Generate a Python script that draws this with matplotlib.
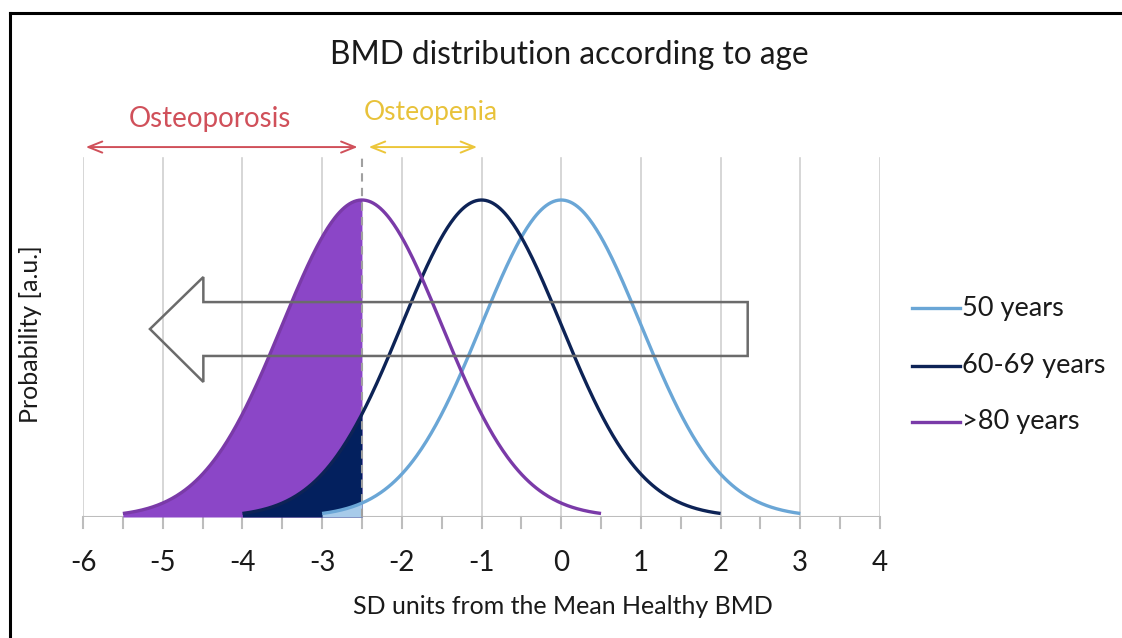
import numpy as np
import matplotlib
matplotlib.use('Agg')
import matplotlib.pyplot as plt
from matplotlib.lines import Line2D
from matplotlib.patches import Polygon

plt.rcParams['font.family'] = ['Lato', 'DejaVu Sans']

# data
labels = ['50 years', '60-69 years', '>80 years']
means = [0.0, -1.0, -2.5]
sds = [1.0, 1.0, 1.0]
line_colors = ['#6aa6d6', '#0d2356', '#7a3aa8']
fill_colors = ['#a7cbea', '#03205e', '#8b46c7']
threshold = -2.5
xticks = [-6, -5, -4, -3, -2, -1, 0, 1, 2, 3, 4]

W, H = 1122, 638
fig = plt.figure(figsize=(W / 100, H / 100), dpi=100)
fig.patch.set_facecolor('white')

# axes: x -6 at px 83, 4 at px 880; y 0 at px 517, 1 at px 200
ax = fig.add_axes([83 / W, (H - 517) / H, (880 - 83) / W, (517 - 200) / H * 1.5])
ax.set_xlim(-6, 4)
ax.set_ylim(0, 1.5)
ax.axis('off')

GRID = '#d0d0d0'
top = (517 - 158) / 317
for x in xticks:
    ax.plot([x, x], [0, top], color=GRID, lw=1.2, zorder=0)
# axis line + ticks
ax.plot([-6, 4], [0, 0], color='#bdbdbd', lw=1.5, zorder=1)
for x in np.arange(-6, 4.01, 0.5):
    ax.plot([x, x], [0, -0.035], color='#bdbdbd', lw=1.5, zorder=1, clip_on=False)
for x in xticks:
    ax.text(x, -0.145, str(x), ha='center', va='center', fontsize=20, color='#1a1a1a')

# fills (back to front: >80, 60-69, 50)
for i in [2, 1, 0]:
    m, s = means[i], sds[i]
    xs = np.linspace(m - 3 * s, threshold, 200)
    if xs[0] < threshold:
        ys = np.exp(-0.5 * ((xs - m) / s) ** 2)
        ax.fill_between(xs, 0, ys, color=fill_colors[i], lw=0, zorder=2 + (2 - i))

# dashed threshold line
ax.plot([threshold, threshold], [0, top], color='#a0a0a0', lw=1.5, ls=(0, (4, 3)), zorder=5)

# curves
for i in range(3):
    m, s = means[i], sds[i]
    xs = np.linspace(m - 3 * s, m + 3 * s, 400)
    ys = np.exp(-0.5 * ((xs - m) / s) ** 2)
    ax.plot(xs, ys, color=line_colors[i], lw=2.4, zorder=6, solid_capstyle='butt')

# hollow arrow
arrow = [(2.34, 0.678), (-4.49, 0.678), (-4.49, 0.757), (-5.16, 0.593),
         (-4.49, 0.426), (-4.49, 0.508), (2.34, 0.508)]
ax.add_patch(Polygon(arrow, closed=True, fill=False, edgecolor='#6b6b6b', lw=1.8, zorder=7))

# category arrows
ax.annotate('', xy=(-6, 1.167), xytext=(-2.52, 1.167),
            arrowprops=dict(arrowstyle='<->,head_length=1.0,head_width=0.4', color='#d0505a', lw=1.4),
            annotation_clip=False)
ax.annotate('', xy=(-2.45, 1.167), xytext=(-1.02, 1.167),
            arrowprops=dict(arrowstyle='<->,head_length=1.0,head_width=0.4', color='#ecc63a', lw=1.4),
            annotation_clip=False)
ax.text(-4.41, 1.255, 'Osteoporosis', color='#d0505a', ha='center', va='center', fontsize=20)
ax.text(-1.63, 1.275, 'Osteopenia', color='#e8c23a', ha='center', va='center', fontsize=19)

# titles
fig.text(569 / W, 1 - 55 / H, 'BMD distribution according to age', ha='center', va='center',
         fontsize=22.8, color='#1a1a1a')
fig.text(563 / W, 1 - 607 / H, 'SD units from the Mean Healthy BMD', ha='center', va='center',
         fontsize=18, color='#1a1a1a')
fig.text(31 / W, 1 - 334 / H, 'Probability [a.u.]', ha='center', va='center', rotation=90,
         fontsize=18, color='#1a1a1a')

# legend
for lab, c, ypx in zip(labels, line_colors, [308, 366, 422]):
    yf = 1 - ypx / H
    fig.add_artist(Line2D([912 / W, 960 / W], [yf, yf], color=c, lw=2.4))
    fig.text(962 / W, yf, lab, ha='left', va='center', fontsize=19.5, color='#1a1a1a')

# frame lines (top and left)
fig.add_artist(Line2D([10 / W, 1], [1 - 13 / H, 1 - 13 / H], color='black', lw=2.2))
fig.add_artist(Line2D([10 / W, 10 / W], [0, 1 - 13 / H], color='black', lw=2.2))

fig.savefig('out.png', dpi=100, facecolor='white')
